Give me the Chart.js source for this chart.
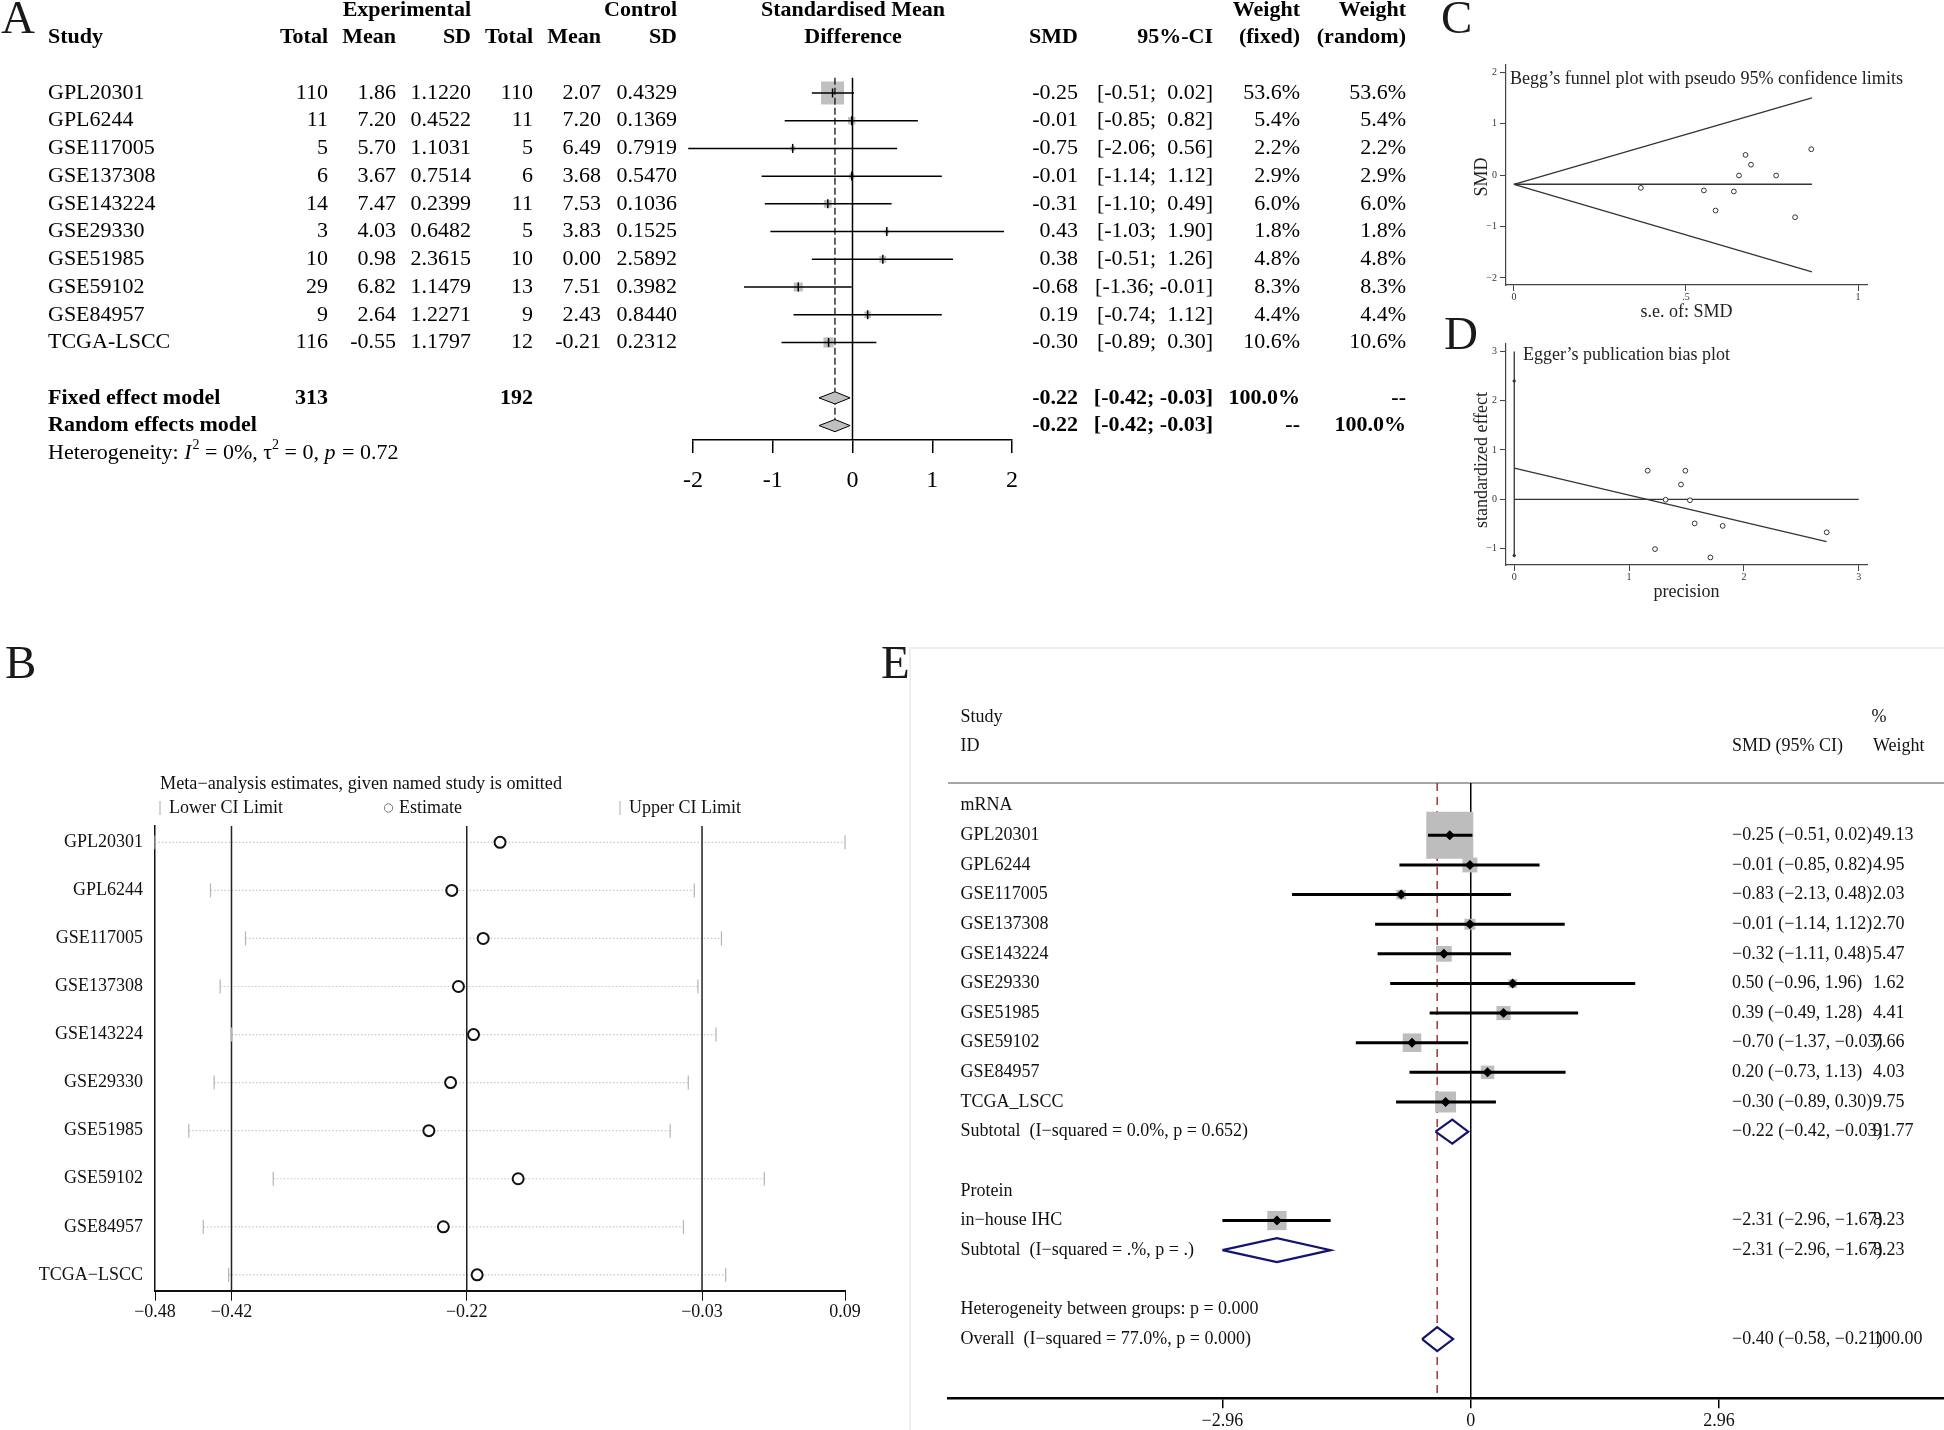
<!DOCTYPE html>
<html>
<head>
<meta charset="utf-8">
<title>SMD meta-analysis figure</title>
<script src="https://cdn.jsdelivr.net/npm/chart.js@4.4.1/dist/chart.umd.min.js"></script>
<style>
  html, body { margin: 0; padding: 0; background: #fff; }
  #fig { position: relative; width: 1944px; height: 1430px; overflow: hidden; background: #fff; }
  #fig canvas { position: absolute; }
  .tag { position: absolute; font: 47px "Liberation Serif", "Times New Roman", serif; line-height: 1; color: #1a1a1a; }
</style>
</head>
<body>
<div id="fig">
  <canvas id="chartA" width="1440" height="500" style="left:0;top:0"></canvas>
  <canvas id="chartB" width="900" height="720" style="left:0;top:620px"></canvas>
  <canvas id="chartC" width="524" height="330" style="left:1420px;top:0"></canvas>
  <canvas id="chartD" width="524" height="300" style="left:1420px;top:310px"></canvas>
  <canvas id="chartE" width="1084" height="810" style="left:860px;top:620px"></canvas>
  <div class="tag" style="left:1px;top:-6px">A</div>
  <div class="tag" style="left:5px;top:639px">B</div>
  <div class="tag" style="left:1441px;top:-6px">C</div>
  <div class="tag" style="left:1444px;top:310px">D</div>
  <div class="tag" style="left:881px;top:639px">E</div>
</div>
<script>
// ---------- panel A: forest plot (fixed / random) ----------
const studiesA = ['GPL20301', 'GPL6244', 'GSE117005', 'GSE137308', 'GSE143224', 'GSE29330', 'GSE51985', 'GSE59102', 'GSE84957', 'TCGA-LSCC'];
const expTotalA = [110, 11, 5, 6, 14, 3, 10, 29, 9, 116];
const expMeanA = [1.86, 7.20, 5.70, 3.67, 7.47, 4.03, 0.98, 6.82, 2.64, -0.55];
const expSdA = [1.1220, 0.4522, 1.1031, 0.7514, 0.2399, 0.6482, 2.3615, 1.1479, 1.2271, 1.1797];
const ctlTotalA = [110, 11, 5, 6, 11, 5, 10, 13, 9, 12];
const ctlMeanA = [2.07, 7.20, 6.49, 3.68, 7.53, 3.83, 0.00, 7.51, 2.43, -0.21];
const ctlSdA = [0.4329, 0.1369, 0.7919, 0.5470, 0.1036, 0.1525, 2.5892, 0.3982, 0.8440, 0.2312];
const smdA = [-0.25, -0.01, -0.75, -0.01, -0.31, 0.43, 0.38, -0.68, 0.19, -0.30];
const loA = [-0.51, -0.85, -2.06, -1.14, -1.10, -1.03, -0.51, -1.36, -0.74, -0.89];
const hiA = [0.02, 0.82, 0.56, 1.12, 0.49, 1.90, 1.26, -0.01, 1.12, 0.30];
const wFixedA = [53.6, 5.4, 2.2, 2.9, 6.0, 1.8, 4.8, 8.3, 4.4, 10.6];
const wRandomA = [53.6, 5.4, 2.2, 2.9, 6.0, 1.8, 4.8, 8.3, 4.4, 10.6];
const totalsA = [313, 192];
const fixedA = [-0.22, -0.42, -0.03];   // est, lo, hi
const randomA = [-0.22, -0.42, -0.03];
const hetA = [0, 0, 0.72];              // I^2 %, tau^2, p
const ticksA = [-2, -1, 0, 1, 2];

// ---------- panel B: leave-one-out sensitivity ----------
const studiesB = ['GPL20301', 'GPL6244', 'GSE117005', 'GSE137308', 'GSE143224', 'GSE29330', 'GSE51985', 'GSE59102', 'GSE84957', 'TCGA\u2212LSCC'];
const estB = [-0.197, -0.237, -0.211, -0.2315, -0.219, -0.238, -0.256, -0.182, -0.244, -0.216];
const loB = [-0.483, -0.437, -0.408, -0.429, -0.4196, -0.434, -0.455, -0.385, -0.443, -0.422];
const hiB = [0.0889, -0.036, -0.0135, -0.033, -0.018, -0.041, -0.056, 0.022, -0.045, -0.010];
const pooledB = [-0.4196, -0.2246, -0.0296];
const ticksB = [-0.483, -0.4196, -0.2246, -0.0296, 0.0889];

// ---------- panel C: Begg's funnel ----------
const seC = [0.369, 0.552, 0.586, 0.639, 0.654, 0.673, 0.689, 0.762, 0.817, 0.864];
const smdC = [-0.25, -0.30, -0.69, -0.32, -0.01, 0.39, 0.20, -0.01, -0.82, 0.50];
const funnelSeC = [0, 0.866];
const funnelUpC = [-0.18, 1.50];
const funnelMidC = [-0.18, -0.18];
const funnelLowC = [-0.18, -1.88];
const ticksCx = [0, 0.5, 1];
const ticksCy = [-2, -1, 0, 1, 2];

// ---------- panel D: Egger's plot ----------
const precD = [1.162, 1.226, 1.318, 1.452, 1.490, 1.530, 1.571, 1.708, 1.815, 2.721];
const stdEffD = [0.58, -1.01, -0.01, 0.30, 0.58, -0.02, -0.49, -1.18, -0.54, -0.67];
const eggerX = [0, 2.72];
const eggerY = [0.63, -0.86];
const interceptCiD = [-1.14, 2.40];
const ticksDx = [0, 1, 2, 3];
const ticksDy = [-1, 0, 1, 2, 3];

// ---------- panel E: subgroup forest ----------
const studiesE = ['GPL20301', 'GPL6244', 'GSE117005', 'GSE137308', 'GSE143224', 'GSE29330', 'GSE51985', 'GSE59102', 'GSE84957', 'TCGA_LSCC'];
const smdE = [-0.25, -0.01, -0.83, -0.01, -0.32, 0.50, 0.39, -0.70, 0.20, -0.30];
const loE = [-0.51, -0.85, -2.13, -1.14, -1.11, -0.96, -0.49, -1.37, -0.73, -0.89];
const hiE = [0.02, 0.82, 0.48, 1.12, 0.48, 1.96, 1.28, -0.03, 1.13, 0.30];
const wE = [49.13, 4.95, 2.03, 2.70, 5.47, 1.62, 4.41, 7.66, 4.03, 9.75];
const proteinStudiesE = ['in\u2212house IHC'];
const proteinSmdE = [-2.31];
const proteinLoE = [-2.96];
const proteinHiE = [-1.67];
const proteinWE = [8.23];
const summaryLabelsE = ['Subtotal  (I\u2212squared = 0.0%, p = 0.652)', 'Subtotal  (I\u2212squared = .%, p = .)', 'Overall  (I\u2212squared = 77.0%, p = 0.000)'];
const summaryEstE = [-0.22, -2.31, -0.40];
const summaryLoE = [-0.42, -2.96, -0.58];
const summaryHiE = [-0.03, -1.67, -0.21];
const summaryWE = [91.77, 8.23, 100.00];
const ticksE = [-2.96, 0, 2.96];

Chart.defaults.font.family = '"Liberation Serif", "Times New Roman", serif';
Chart.defaults.color = '#000';
const SERIF = Chart.defaults.font.family;

function put(ctx, s, x, y, o = {}) {
  ctx.save();
  ctx.font = `${o.italic ? 'italic ' : ''}${o.bold ? 'bold ' : ''}${o.size || 22}px ${SERIF}`;
  ctx.fillStyle = o.color || '#000';
  ctx.textAlign = o.align || 'left';
  ctx.textBaseline = 'middle';
  ctx.translate(x, y);
  if (o.rotate) ctx.rotate(o.rotate);
  if (o.fit) ctx.scale(o.fit / ctx.measureText(s).width, 1);
  ctx.fillText(s, 0, 0);
  ctx.restore();
}

const seg = (points, style) => Object.assign({ type: 'line', data: points, pointRadius: 0, clip: false, fill: false }, style);
const diamond = (est, lo, hi, y, h) => [{ x: lo, y }, { x: est, y: y - h }, { x: hi, y }, { x: est, y: y + h }, { x: lo, y }];
const stata = v => (v < 0 ? '\u2212' : '') + String(Math.abs(v)).replace(/^0\./, '.');
// hidden row axis: no labels, no padding so the chart area stays where the layout padding puts it
const rowAxis = (min, max) => ({ type: 'linear', display: false, reverse: true, min, max, ticks: { display: false },
  afterFit: s => { s.width = 0; s.paddingTop = 0; s.paddingBottom = 0; } });
const noSidePad = s => { s.paddingLeft = 0; s.paddingRight = 0; };

function opts(pad, scales) {
  return {
    responsive: false, animation: false, events: [], devicePixelRatio: 1,
    layout: { padding: pad, autoPadding: false },
    plugins: { legend: { display: false }, tooltip: { enabled: false } },
    scales
  };
}
const setTicks = vals => s => { s.ticks = vals.map(v => ({ value: v })); };

// ================= A =================
const colA = { name: 48, expN: 328, expMean: 396, expSd: 471, ctlN: 533, ctlMean: 601, ctlSd: 677, mid: 853, smd: 1078, ci: 1213, wF: 1300, wR: 1406 };
const numA = v => v.toFixed(2);
const ciA = (lo, hi) => `[${numA(lo)};${hi < 0 ? ' ' : '  '}${numA(hi)}]`;
const pctA = v => v.toFixed(1) + '%';

const tableA = {
  id: 'tableA',
  afterDraw(chart) {
    const ctx = chart.ctx;
    const y = v => chart.scales.y.getPixelForValue(v);
    const hb = { bold: true, align: 'right' };
    put(ctx, 'Experimental', colA.expSd, y(-3), hb);
    put(ctx, 'Control', colA.ctlSd, y(-3), hb);
    put(ctx, 'Standardised Mean', colA.mid, y(-3), { bold: true, align: 'center' });
    put(ctx, 'Weight', colA.wF, y(-3), hb);
    put(ctx, 'Weight', colA.wR, y(-3), hb);
    put(ctx, 'Study', colA.name, y(-2), { bold: true });
    [['Total', 'expN'], ['Mean', 'expMean'], ['SD', 'expSd'], ['Total', 'ctlN'], ['Mean', 'ctlMean'], ['SD', 'ctlSd'],
     ['SMD', 'smd'], ['95%-CI', 'ci'], ['(fixed)', 'wF'], ['(random)', 'wR']]
      .forEach(([t, k]) => put(ctx, t, colA[k], y(-2), hb));
    put(ctx, 'Difference', colA.mid, y(-2), { bold: true, align: 'center' });

    const r = { align: 'right' };
    studiesA.forEach((s, i) => {
      const yy = y(i);
      put(ctx, s, colA.name, yy);
      put(ctx, String(expTotalA[i]), colA.expN, yy, r);
      put(ctx, numA(expMeanA[i]), colA.expMean, yy, r);
      put(ctx, expSdA[i].toFixed(4), colA.expSd, yy, r);
      put(ctx, String(ctlTotalA[i]), colA.ctlN, yy, r);
      put(ctx, numA(ctlMeanA[i]), colA.ctlMean, yy, r);
      put(ctx, ctlSdA[i].toFixed(4), colA.ctlSd, yy, r);
      put(ctx, numA(smdA[i]), colA.smd, yy, r);
      put(ctx, ciA(loA[i], hiA[i]), colA.ci, yy, r);
      put(ctx, pctA(wFixedA[i]), colA.wF, yy, r);
      put(ctx, pctA(wRandomA[i]), colA.wR, yy, r);
    });

    const yf = y(11), yr = y(12);
    put(ctx, 'Fixed effect model', colA.name, yf, { bold: true });
    put(ctx, String(totalsA[0]), colA.expN, yf, hb);
    put(ctx, String(totalsA[1]), colA.ctlN, yf, hb);
    put(ctx, numA(fixedA[0]), colA.smd, yf, hb);
    put(ctx, ciA(fixedA[1], fixedA[2]), colA.ci, yf, hb);
    put(ctx, '100.0%', colA.wF, yf, hb);
    put(ctx, '--', colA.wR, yf, hb);
    put(ctx, 'Random effects model', colA.name, yr, { bold: true });
    put(ctx, numA(randomA[0]), colA.smd, yr, hb);
    put(ctx, ciA(randomA[1], randomA[2]), colA.ci, yr, hb);
    put(ctx, '--', colA.wF, yr, hb);
    put(ctx, '100.0%', colA.wR, yr, hb);

    // heterogeneity line with italics and superscripts
    const yh = y(13);
    let x = colA.name;
    const runs = [['Heterogeneity: ', ''], ['I', 'i'], ['2', 's'], [` = ${hetA[0]}%, \u03c4`, ''], ['2', 's'],
                  [` = ${hetA[1]}, `, ''], ['p', 'i'], [` = ${hetA[2]}`, '']];
    ctx.save();
    ctx.textBaseline = 'middle';
    ctx.fillStyle = '#000';
    runs.forEach(([t, k]) => {
      ctx.font = `${k === 'i' ? 'italic ' : ''}${k === 's' ? 14 : 22}px ${SERIF}`;
      ctx.fillText(t, x, k === 's' ? yh - 8 : yh);
      x += ctx.measureText(t).width + (k === 'i' ? 1 : 0);
    });
    ctx.restore();
  }
};

new Chart(document.getElementById('chartA'), {
  type: 'scatter',
  data: {
    datasets: [
      { data: smdA.map((v, i) => ({ x: v, y: i })), pointStyle: 'line', pointRotation: 90, pointRadius: 4.5,
        pointBorderColor: '#000', pointBorderWidth: 1.5, clip: false },
      ...studiesA.map((s, i) => seg([{ x: loA[i], y: i }, { x: hiA[i], y: i }], { borderColor: '#000', borderWidth: 1.5 })),
      seg(diamond(fixedA[0], fixedA[1], fixedA[2], 11, 0.22), { borderColor: '#000', borderWidth: 1, backgroundColor: '#c0c0c0', fill: 'shape' }),
      seg(diamond(randomA[0], randomA[1], randomA[2], 12, 0.22), { borderColor: '#000', borderWidth: 1, backgroundColor: '#c0c0c0', fill: 'shape' }),
      seg([{ x: 0, y: -0.55 }, { x: 0, y: 12.52 }], { borderColor: '#000', borderWidth: 1.5 }),
      seg([{ x: fixedA[0], y: -0.55 }, { x: fixedA[0], y: 11.78 }], { borderColor: '#000', borderWidth: 1.2, borderDash: [7, 3] }),
      { data: smdA.map((v, i) => ({ x: v, y: i })), pointStyle: 'rect',
        pointRadius: c => 2.22 * Math.sqrt(wFixedA[c.dataIndex]), pointBackgroundColor: '#c0c0c0', pointBorderWidth: 0, clip: false }
    ]
  },
  options: opts({ left: 693, right: 428, top: 0, bottom: 0 }, {
    x: { type: 'linear', min: -2, max: 2, afterBuildTicks: setTicks(ticksA),
         afterFit: s => { s.height = 60; noSidePad(s); },
         ticks: { font: { size: 24 }, color: '#000', padding: 13 },
         grid: { drawOnChartArea: false, tickLength: 13, color: '#000', lineWidth: 1.5 },
         border: { color: '#000', width: 1.5 } },
    y: rowAxis(-3.355, 12.52)
  }),
  plugins: [tableA]
});

// ================= B =================
const textB = {
  id: 'textB',
  afterDraw(chart) {
    const ctx = chart.ctx;
    const y = v => chart.scales.y.getPixelForValue(v);
    studiesB.forEach((s, i) => put(ctx, s, 143, y(i + 1), { size: 18, align: 'right', color: '#111' }));
    put(ctx, 'Meta\u2212analysis estimates, given named study is omitted', 160, 164, { size: 18, fit: 402, color: '#111' });
    ctx.save();
    ctx.strokeStyle = '#b8b8b8'; ctx.lineWidth = 1.2;
    [160, 620].forEach(x => { ctx.beginPath(); ctx.moveTo(x, 181); ctx.lineTo(x, 195); ctx.stroke(); });
    ctx.strokeStyle = '#777'; ctx.lineWidth = 1;
    ctx.beginPath(); ctx.arc(388.5, 188, 4.2, 0, Math.PI * 2); ctx.stroke();
    ctx.restore();
    put(ctx, 'Lower CI Limit', 169, 188, { size: 18, color: '#111' });
    put(ctx, 'Estimate', 399, 188, { size: 18, color: '#111' });
    put(ctx, 'Upper CI Limit', 629, 188, { size: 18, color: '#111' });
  }
};

new Chart(document.getElementById('chartB'), {
  type: 'scatter',
  data: {
    datasets: [
      { data: estB.map((v, i) => ({ x: v, y: i + 1 })), pointStyle: 'circle', pointRadius: 5.5,
        pointBorderColor: '#111', pointBorderWidth: 2, pointBackgroundColor: '#fff', clip: false },
      { data: loB.map((v, i) => ({ x: v, y: i + 1 })).concat(hiB.map((v, i) => ({ x: v, y: i + 1 }))),
        pointStyle: 'line', pointRotation: 90, pointRadius: 7, pointBorderColor: '#b5b5b5', pointBorderWidth: 1.2, clip: false },
      ...pooledB.map(v => seg([{ x: v, y: 0.66 }, { x: v, y: 10.33 }], { borderColor: '#222', borderWidth: 1.5 })),
      ...studiesB.map((s, i) => seg([{ x: loB[i], y: i + 1 }, { x: hiB[i], y: i + 1 }],
        { borderColor: '#c8c8c8', borderWidth: 1.2, borderDash: [1.5, 2] }))
    ]
  },
  options: opts({ left: 155, right: 55, top: 206, bottom: 0 }, {
    x: { type: 'linear', min: ticksB[0], max: ticksB[4], afterBuildTicks: setTicks(ticksB),
         afterFit: s => { s.height = 49.3; noSidePad(s); },
         ticks: { font: { size: 18 }, color: '#111', padding: 1,
                  callback: v => (v < 0 ? '\u2212' : '') + Math.abs(v).toFixed(2) },
         grid: { drawOnChartArea: false, tickLength: 10, color: '#111', lineWidth: 1 },
         border: { color: '#111', width: 2 } },
    y: { type: 'linear', reverse: true, min: 0.66, max: 10.33,
         afterFit: s => { s.width = 0; s.paddingTop = 0; s.paddingBottom = 0; },
         ticks: { display: false }, grid: { display: false, drawTicks: false },
         border: { display: true, color: '#111', width: 1.5 } }
  }),
  plugins: [textB]
});

// ================= C & D (Stata style small plots) =================
function stataAxes(xr, yr, xt, yt) {
  const common = {
    ticks: { font: { size: 10 }, color: '#333', callback: stata },
    grid: { drawOnChartArea: false, tickLength: 6, color: '#444', lineWidth: 1 },
    border: { color: '#444', width: 1.2 }
  };
  return {
    x: Object.assign({}, common, { type: 'linear', min: xr[0], max: xr[1], afterBuildTicks: setTicks(xt),
      afterFit: s => { s.height = 45; noSidePad(s); }, ticks: Object.assign({}, common.ticks, { padding: 0 }) }),
    y: Object.assign({}, common, { type: 'linear', min: yr[0], max: yr[1], afterBuildTicks: setTicks(yt),
      afterFit: s => { s.width = 86; s.paddingTop = 0; s.paddingBottom = 0; }, ticks: Object.assign({}, common.ticks, { padding: 3 }) })
  };
}
const titles = (title, titleW, titleDx, titleDy, xTitle, yTitle, yTitleY) => ({
  id: 'titles',
  afterDraw(chart) {
    const ctx = chart.ctx, a = chart.chartArea;
    put(ctx, title, a.left + titleDx, a.top + titleDy, { size: 18, fit: titleW, color: '#222' });
    put(ctx, xTitle, (a.left + a.right) / 2, a.bottom + 27, { size: 18, align: 'center', color: '#222' });
    put(ctx, yTitle, a.left - 24, yTitleY, { size: 18, align: 'center', rotate: -Math.PI / 2, color: '#222' });
  }
});
const openDots = { pointStyle: 'circle', pointRadius: 2.4, pointBorderColor: '#333', pointBorderWidth: 1, pointBackgroundColor: '#fff', clip: false };

new Chart(document.getElementById('chartC'), {
  type: 'scatter',
  data: {
    datasets: [
      Object.assign({ data: seC.map((v, i) => ({ x: v, y: smdC[i] })) }, openDots),
      seg(funnelSeC.map((v, i) => ({ x: v, y: funnelUpC[i] })), { borderColor: '#333', borderWidth: 1.3 }),
      seg(funnelSeC.map((v, i) => ({ x: v, y: funnelMidC[i] })), { borderColor: '#333', borderWidth: 1.3 }),
      seg(funnelSeC.map((v, i) => ({ x: v, y: funnelLowC[i] })), { borderColor: '#333', borderWidth: 1.3 })
    ]
  },
  options: opts({ left: 0, right: 77, top: 65, bottom: 0 }, stataAxes([-0.023, 1.026], [-2.136, 2.136], ticksCx, ticksCy)),
  plugins: [titles('Begg\u2019s funnel plot with pseudo 95% confidence limits', 393, 4, 14, 's.e. of: SMD', 'SMD', 177)]
});

new Chart(document.getElementById('chartD'), {
  type: 'scatter',
  data: {
    datasets: [
      Object.assign({ data: precD.map((v, i) => ({ x: v, y: stdEffD[i] })) }, openDots),
      { data: interceptCiD.map(v => ({ x: 0, y: v })), pointStyle: 'rectRot', pointRadius: 2, pointBackgroundColor: '#333', pointBorderWidth: 0, clip: false },
      seg(eggerX.map((v, i) => ({ x: v, y: eggerY[i] })), { borderColor: '#333', borderWidth: 1.3 }),
      seg([{ x: 0, y: 0 }, { x: ticksDx[3], y: 0 }], { borderColor: '#333', borderWidth: 1.3 }),
      seg([{ x: 0, y: -1.17 }, { x: 0, y: ticksDy[4] }], { borderColor: '#333', borderWidth: 1.3 })
    ]
  },
  options: opts({ left: 0, right: 77, top: 34, bottom: 0 }, stataAxes([-0.072, 3.072], [-1.333, 3.15], ticksDx, ticksDy)),
  plugins: [titles('Egger\u2019s publication bias plot', 207, 17, 11, 'precision', 'standardized effect', 150)]
});

// ================= E =================
const numE = v => (v < 0 ? '\u2212' : '') + Math.abs(v).toFixed(2);
const ciE = (e, l, h) => `${numE(e)} (${numE(l)}, ${numE(h)})`;
const rowsE = studiesE.map((s, i) => i + 1);      // mRNA studies rows 1..10
const protRowE = [14];
const summaryRowE = [11, 15, 18];

const textE = {
  id: 'textE',
  beforeDraw(chart) {
    const ctx = chart.ctx;
    ctx.save();
    ctx.strokeStyle = '#e2eaee'; ctx.lineWidth = 1.5;
    ctx.beginPath(); ctx.moveTo(chart.width, 28); ctx.lineTo(50, 28); ctx.lineTo(50, chart.height); ctx.stroke();
    ctx.restore();
  },
  afterDraw(chart) {
    const ctx = chart.ctx;
    const y = v => chart.scales.y.getPixelForValue(v);
    const o = { size: 18, color: '#111' };
    const L = 100.5, C = 872, W = 1013;
    put(ctx, 'Study', L, y(-3), o);
    put(ctx, 'ID', L, y(-2), o);
    put(ctx, '%', 1011.5, y(-3), o);
    put(ctx, 'SMD (95% CI)', C, y(-2), o);
    put(ctx, 'Weight', W, y(-2), o);
    put(ctx, 'mRNA', L, y(0), o);
    studiesE.forEach((s, i) => {
      put(ctx, s, L, y(rowsE[i]), o);
      put(ctx, ciE(smdE[i], loE[i], hiE[i]), C, y(rowsE[i]), o);
      put(ctx, wE[i].toFixed(2), W, y(rowsE[i]), o);
    });
    put(ctx, 'Protein', L, y(13), o);
    proteinStudiesE.forEach((s, i) => {
      put(ctx, s, L, y(protRowE[i]), o);
      put(ctx, ciE(proteinSmdE[i], proteinLoE[i], proteinHiE[i]), C, y(protRowE[i]), o);
      put(ctx, proteinWE[i].toFixed(2), W, y(protRowE[i]), o);
    });
    put(ctx, 'Heterogeneity between groups: p = 0.000', L, y(17), o);
    summaryLabelsE.forEach((s, i) => {
      put(ctx, s, L, y(summaryRowE[i]), o);
      put(ctx, ciE(summaryEstE[i], summaryLoE[i], summaryHiE[i]), C, y(summaryRowE[i]), o);
      put(ctx, summaryWE[i].toFixed(2), W, y(summaryRowE[i]), o);
    });
  }
};

const allSmdE = smdE.concat(proteinSmdE);
const allLoE = loE.concat(proteinLoE);
const allHiE = hiE.concat(proteinHiE);
const allWE = wE.concat(proteinWE);
const allRowE = rowsE.concat(protRowE);

new Chart(document.getElementById('chartE'), {
  type: 'scatter',
  data: {
    datasets: [
      { data: allSmdE.map((v, i) => ({ x: v, y: allRowE[i] })), pointStyle: 'rectRot', pointRadius: 5,
        pointBackgroundColor: '#000', pointBorderWidth: 0, clip: false },
      ...allSmdE.map((v, i) => seg([{ x: allLoE[i], y: allRowE[i] }, { x: allHiE[i], y: allRowE[i] }], { borderColor: '#000', borderWidth: 3 })),
      ...summaryEstE.map((v, i) => seg(diamond(v, summaryLoE[i], summaryHiE[i], summaryRowE[i], 0.405),
        { borderColor: '#14146e', borderWidth: 2.2, backgroundColor: '#fff', fill: 'shape' })),
      { data: allSmdE.map((v, i) => ({ x: v, y: allRowE[i] })), pointStyle: 'rect',
        pointRadius: c => 4.74 * Math.sqrt(allWE[c.dataIndex]), pointBackgroundColor: '#bdbdbd', pointBorderWidth: 0, clip: false },
      seg([{ x: 0, y: -0.766 }, { x: 0, y: 20 }], { borderColor: '#000', borderWidth: 1.5 }),
      seg([{ x: summaryEstE[2], y: -0.766 }, { x: summaryEstE[2], y: 20 }], { borderColor: '#a8322d', borderWidth: 1.5, borderDash: [8, 6] }),
      seg([{ x: -6.23, y: -0.766 }, { x: 5.64, y: -0.766 }], { borderColor: '#a6a6a6', borderWidth: 2 })
    ]
  },
  options: opts({ left: 88, right: 0, top: 163, bottom: 0 }, {
    x: { type: 'linear', min: -6.23, max: 5.64, afterBuildTicks: setTicks(ticksE),
         afterFit: s => { s.height = 31.7; noSidePad(s); },
         ticks: { font: { size: 18 }, color: '#111', padding: 2, callback: v => (v < 0 ? '\u2212' : '') + (v === 0 ? '0' : Math.abs(v).toFixed(2)) },
         grid: { drawOnChartArea: false, tickLength: 10, color: '#000', lineWidth: 1.5 },
         border: { color: '#000', width: 2.5 } },
    y: rowAxis(-0.766, 20)
  }),
  plugins: [textE]
});
</script>
</body>
</html>
